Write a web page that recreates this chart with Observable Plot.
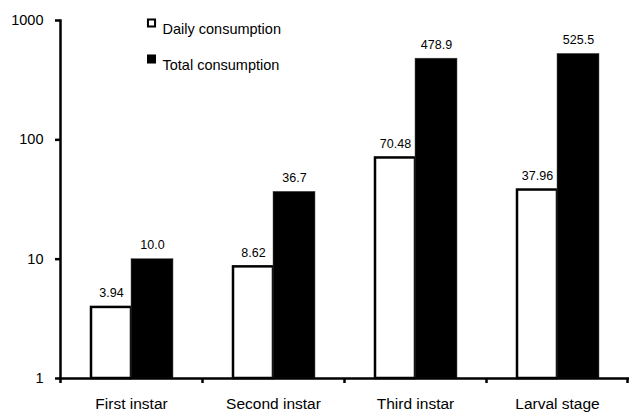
<!DOCTYPE html>
<html>
<head>
<meta charset="utf-8">
<script src="https://cdn.jsdelivr.net/npm/d3@7"></script>
<script src="https://cdn.jsdelivr.net/npm/@observablehq/plot@0.6"></script>
<style>
  html, body { margin: 0; padding: 0; background: #fff; }
  #chart svg { display: block; font-family: "Liberation Sans", Arial, sans-serif; }
</style>
</head>
<body>
<div id="chart"></div>
<script>
// Food consumption per developmental stage (log scale)
const stages = ["First instar", "Second instar", "Third instar", "Larval stage"];
const dailyConsumption = [3.94, 8.62, 70.48, 37.96];
const totalConsumption = [10.0, 36.7, 478.9, 525.5];
const dailyLabels = ["3.94", "8.62", "70.48", "37.96"];
const totalLabels = ["10.0", "36.7", "478.9", "525.5"];
const yTicks = [1, 10, 100, 1000];
const seriesNames = ["Daily consumption", "Total consumption"];

const daily = stages.map((s, i) => ({stage: s, value: dailyConsumption[i], label: dailyLabels[i]}));
const total = stages.map((s, i) => ({stage: s, value: totalConsumption[i], label: totalLabels[i]}));

const W = 629, H = 415, mT = 20, mB = 37, mL = 60, mR = 1;
const plotH = H - mT - mB;
const font = "Liberation Sans, Arial, sans-serif";

const chart = Plot.plot({
  width: W,
  height: H,
  marginTop: mT,
  marginBottom: mB,
  marginLeft: mL,
  marginRight: mR,
  style: {fontFamily: font, background: "#fff", color: "#000"},
  x: {type: "band", domain: stages, padding: 0, label: null},
  y: {type: "log", domain: [1, 1000], label: null},
  marks: [
    // daily bars: white with heavy outline, left half of each group
    Plot.barY(daily, {
      x: "stage", y1: 1, y2: "value",
      fill: "white", stroke: "black", strokeWidth: 2.5,
      insetLeft: 31, insetRight: 71
    }),
    // total bars: solid black, right half of each group
    Plot.barY(total, {
      x: "stage", y1: 1, y2: "value",
      fill: "black", stroke: "#555", strokeWidth: 0.5,
      insetLeft: 71, insetRight: 29
    }),
    // value labels
    Plot.text(daily, {
      x: "stage", y: "value", text: "label", dx: -20, dy: -14,
      fontSize: 12.5, fill: "black", letterSpacing: "0.6px"
    }),
    Plot.text(total, {
      x: "stage", y: "value", text: "label", dx: 21, dy: -14,
      fontSize: 12.5, fill: "black", letterSpacing: "0.6px"
    }),
    // axis lines
    Plot.frame({anchor: "left", stroke: "black", strokeWidth: 2.5}),
    Plot.frame({anchor: "bottom", stroke: "black", strokeWidth: 2.5}),
    // group boundary ticks on the x axis
    Plot.ruleX(stages, {
      x: d => d, dx: -71, stroke: "black", strokeWidth: 2.5,
      insetTop: plotH, insetBottom: -5
    }),
    Plot.ruleX(stages.slice(-1), {
      x: d => d, dx: 70, stroke: "black", strokeWidth: 2.5,
      insetTop: plotH, insetBottom: -5
    }),
    Plot.axisY({
      ticks: yTicks, tickFormat: d => String(d),
      tickSize: 5, tickPadding: 12, strokeWidth: 2.5,
      fontSize: 14.5, label: null
    }),
    Plot.axisX({
      tickSize: 0, tickPadding: 19, fontSize: 15.5, letterSpacing: "0.5px", label: null
    }),
    // legend
    Plot.dot([seriesNames[0]], {
      frameAnchor: "top-left", dx: 91, dy: 2.5,
      symbol: "square", r: 4, fill: "white", stroke: "black", strokeWidth: 2
    }),
    Plot.dot([seriesNames[1]], {
      frameAnchor: "top-left", dx: 91, dy: 38.5,
      symbol: "square", r: 5.1, fill: "black", stroke: "none"
    }),
    Plot.text([seriesNames[0]], {
      frameAnchor: "top-left", dx: 102, dy: 3, text: d => d,
      textAnchor: "start", fontSize: 14.5, letterSpacing: "0.4px", fill: "black"
    }),
    Plot.text([seriesNames[1]], {
      frameAnchor: "top-left", dx: 102, dy: 39, text: d => d,
      textAnchor: "start", fontSize: 14.5, letterSpacing: "0.4px", fill: "black"
    })
  ]
});

document.getElementById("chart").appendChild(chart);
</script>
</body>
</html>
